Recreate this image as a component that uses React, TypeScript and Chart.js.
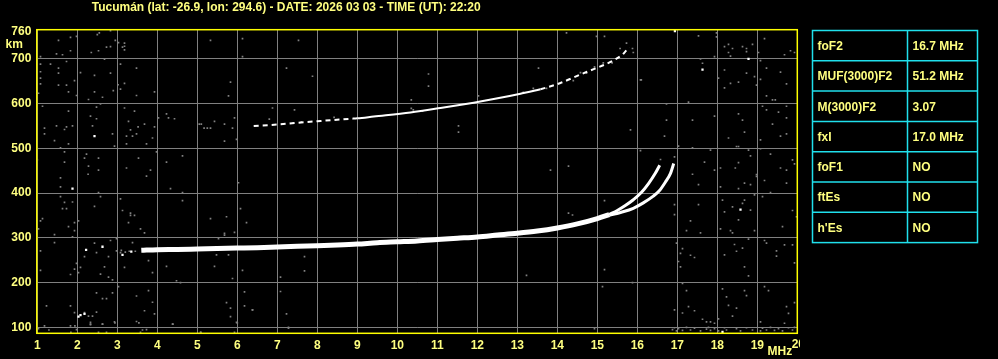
import { useEffect, useRef } from 'react';
import { Chart, registerables } from 'chart.js';
Chart.register(...registerables);

const TITLE = 'Tucumán (lat: -26.9, lon: 294.6) - DATE: 2026 03 03 - TIME (UT): 22:20';
const HEIGHT_TICKS = [100, 200, 300, 400, 500, 600, 700, 760];
const FREQ_MIN = 1;
const FREQ_MAX = 20;
const HEIGHT_MIN = 86.6;
const HEIGHT_MAX = 765;

const PARAM_NAMES = ['foF2', 'MUF(3000)F2', 'M(3000)F2', 'fxI', 'foF1', 'ftEs', "h'Es"];
const PARAM_VALUES = ['16.7 MHz', '51.2 MHz', '3.07', '17.0 MHz', 'NO', 'NO', 'NO'];

// F2 trace (o + x overlapping)
const f2Freq = [3.6, 4, 4.5, 5, 5.5, 6, 6.5, 7, 7.5, 8, 8.5, 9, 9.5, 10, 10.5, 11, 11.5, 12, 12.5, 13, 13.5, 14, 14.5, 15, 15.3];
const f2Height = [272, 273.5, 274, 275, 276, 277, 278, 279.5, 281, 282.5, 284, 286, 289, 291, 293, 296, 299, 302, 306, 310, 315, 322, 331, 343, 352];
// ordinary branch near critical frequency
const oFreq = [15.3, 15.5, 15.7, 15.9, 16.1, 16.28, 16.45, 16.56];
const oHeight = [352, 361, 372, 385, 401, 421, 444, 462];
// extraordinary branch
const xFreq = [15.3, 15.6, 15.9, 16.15, 16.4, 16.55, 16.7, 16.83, 16.91];
const xHeight = [350, 357, 366, 378, 393, 405, 424, 444, 466];
// second hop (2F)
const hop2Freq = [6.41, 6.99, 7.5, 8.08, 8.83, 9.0, 9.41, 10.33, 11.08, 11.91, 12.41, 13.08, 13.58, 14.08, 14.58, 14.91, 15.33, 15.66, 15.79];
const hop2Height = [550, 553, 557, 561, 566, 567, 571, 580, 590, 602, 610, 622, 632, 646, 665, 677, 693, 712, 726];

// isolated white echoes [MHz, km]
const whiteEchoes = [[1.88, 410], [2.43, 527], [2.22, 273], [2.63, 280], [3.13, 262], [3.35, 269], [2.03, 124], [2.08, 127], [2.18, 130], [16.94, 762], [18.78, 700], [17.63, 676], [18.58, 363], [18.13, 90]];

// weak (gray) echoes / noise [MHz, km]
const grayEchoes = [
  [1.53, 741], [1.83, 748], [1.98, 750], [2.5, 754], [2.55, 758], [2.83, 763], [2.95, 741], [3.03, 736], [3.18, 735], [3.18, 728], [3.18, 720], [3.13, 726], [2.73, 726], [2.83, 727], [2.53, 718], [2.35, 714], [1.83, 718], [1.48, 711], [1.63, 709], [1.08, 705], [1.73, 694], [2.68, 699], [1.08, 688], [1.33, 688], [3.08, 688], [1.53, 679], [1.08, 671], [1.53, 668], [2.08, 669], [2.43, 663], [2.83, 668], [3.48, 679], [1.08, 657], [1.93, 651], [1.08, 644], [1.53, 641], [1.73, 641], [3.02, 642], [3.18, 645], [2.9, 629], [3.08, 632], [2.43, 626], [1.78, 626], [3.93, 626], [1.03, 623], [1.98, 618], [2.63, 614], [2.28, 609], [3.48, 618], [2.58, 599], [1.13, 594], [2.48, 592], [3.18, 590], [1.78, 583], [3.43, 583], [2.33, 572], [2.48, 566], [3.28, 560], [3.68, 554], [4.23, 577], [4.03, 568], [4.28, 568], [4.43, 566], [5.33, 741], [6.13, 745], [6.13, 705], [5.83, 648], [5.78, 617], [5.43, 560], [5.68, 554], [5.93, 568], [5.88, 545], [5.98, 520], [5.68, 516], [5.05, 554], [5.1, 554], [5.17, 545], [5.25, 545], [5.33, 545], [1.18, 545], [1.48, 550], [1.73, 548], [1.88, 550], [1.68, 542], [1.18, 532], [1.43, 517], [1.78, 510], [2.38, 550], [2.88, 532], [2.93, 505], [3.23, 527], [3.38, 527], [3.33, 541], [3.48, 532], [3.52, 548], [3.93, 548], [3.88, 523], [3.73, 510], [3.23, 510], [1.58, 501], [1.68, 492], [2.18, 478], [2.23, 487], [2.53, 478], [2.28, 460], [2.53, 451], [1.68, 469], [2.27, 442], [1.58, 434], [3.23, 456], [3.53, 478], [3.83, 451], [3.73, 438], [3.98, 492], [4.63, 483], [4.23, 469], [1.0, 474],
  [1.58, 414], [2.53, 401], [2.58, 392], [1.58, 392], [1.68, 379], [1.88, 380], [1.63, 365], [1.73, 365], [2.43, 370], [3.08, 387], [3.13, 361], [3.33, 355], [3.33, 350], [3.43, 350], [3.28, 334], [1.08, 338], [1.13, 343], [1.78, 325], [1.93, 334], [2.03, 338], [1.93, 316], [1.88, 302], [1.43, 307], [1.03, 320], [3.58, 320], [3.68, 311], [4.33, 410], [4.63, 401], [4.63, 383], [5.68, 310], [5.68, 306], [5.93, 312], [5.73, 347], [5.33, 343], [6.08, 365], [6.23, 334], [6.03, 423], [5.53, 298],
  [2.43, 288], [2.83, 294], [2.98, 298], [3.38, 289], [2.18, 258], [2.48, 267], [2.78, 258], [2.98, 271], [3.08, 267], [2.68, 235], [1.98, 243], [2.08, 234], [1.93, 230], [2.58, 219], [1.83, 218], [2.03, 222], [2.78, 212], [2.88, 206], [3.03, 191], [3.18, 234], [3.78, 249], [3.88, 222], [4.23, 236], [4.48, 204], [4.58, 200], [5.43, 236], [5.88, 209], [6.13, 227], [1.08, 227], [1.08, 271], [1.43, 289], [5.48, 262], [5.78, 262], [3.2, 268], [3.3, 270], [3.45, 270], [3.1, 272],
  [2.48, 177], [2.88, 177], [3.48, 170], [3.78, 182], [3.88, 156], [3.68, 137], [3.93, 130], [1.23, 148], [1.83, 148], [2.63, 164], [2.73, 164], [1.93, 133], [2.18, 133], [2.28, 125], [2.38, 125], [2.48, 134], [2.33, 106], [2.63, 107], [2.93, 112], [1.03, 97], [1.18, 103], [1.83, 103], [1.98, 95], [2.53, 89], [3.48, 113], [3.73, 95], [4.38, 107], [5.08, 89], [5.73, 155], [5.83, 143], [5.83, 124], [6.18, 179], [6.18, 148], [6.38, 139], [6.0, 110], [5.93, 89],
  [1.29, 94], [1.94, 103], [2.33, 107], [2.33, 111], [2.63, 107], [2.94, 110], [3.54, 110], [4.39, 107], [5.09, 89], [5.98, 111], [7.28, 100], [1.84, 89], [2.73, 89], [3.58, 89], [3.63, 94],
  [17.53, 751], [17.98, 758], [17.98, 749], [18.18, 727], [18.28, 732], [18.38, 723], [18.28, 714], [18.33, 706], [18.63, 727], [18.73, 723], [18.73, 716], [18.88, 732], [19.18, 745], [19.03, 714], [19.68, 709], [19.83, 718], [19.93, 714], [19.08, 696], [17.93, 705], [17.58, 700], [17.63, 690], [16.1, 653], [18.18, 675], [18.03, 657], [18.33, 645], [18.53, 648], [18.18, 635], [18.73, 668], [18.93, 660], [18.98, 641], [19.08, 654], [19.23, 679], [19.58, 670], [19.23, 617], [19.38, 608], [19.45, 608], [19.73, 644], [17.28, 603], [16.73, 599], [19.13, 594], [19.23, 586], [19.53, 581], [19.73, 594], [19.73, 568], [17.38, 563], [17.93, 572], [18.53, 577], [18.63, 563], [18.68, 536], [18.28, 523], [19.08, 519], [19.38, 554], [19.58, 527], [19.73, 532], [16.73, 563], [16.68, 527], [17.03, 505], [17.38, 501], [17.83, 496], [18.48, 504], [18.53, 504], [18.78, 496], [19.08, 499], [19.33, 487], [18.83, 483], [18.53, 468], [17.68, 469], [18.08, 456], [18.45, 456], [17.38, 442], [17.53, 419], [16.93, 481], [16.58, 475], [17.93, 451], [18.98, 437], [18.98, 441], [19.18, 428], [19.58, 456], [19.73, 451], [19.73, 422], [19.88, 474], [19.93, 465], [18.08, 414], [18.53, 410], [18.68, 422], [18.83, 419], [19.33, 401], [19.13, 392], [18.93, 396], [18.13, 384], [18.18, 358], [18.38, 369], [18.63, 377], [18.68, 384], [18.83, 362], [18.53, 340], [17.53, 374], [16.93, 374], [16.93, 352], [17.33, 338], [17.23, 316], [17.58, 311], [18.08, 320], [18.33, 316], [18.38, 311], [18.93, 316], [19.63, 325], [19.88, 361], [19.98, 347], [18.78, 297], [16.98, 288], [17.13, 276], [17.08, 265], [17.33, 261], [17.43, 256], [17.03, 247], [17.08, 235], [18.18, 262], [18.43, 285], [18.48, 270], [18.63, 277], [18.68, 235], [18.78, 215], [19.18, 294], [19.23, 288], [19.48, 271], [19.48, 259], [19.68, 284], [19.88, 284], [19.93, 244], [17.13, 198], [17.23, 182], [18.13, 186], [18.23, 168], [18.28, 149], [18.48, 143], [18.68, 182], [18.73, 171], [19.18, 191], [19.28, 182], [19.73, 146], [19.78, 131], [19.93, 155], [16.93, 139], [17.28, 146], [17.43, 137], [17.13, 132], [18.38, 125], [18.03, 119], [17.93, 109], [19.08, 112], [19.68, 109], [17.63, 118], [17.73, 112], [17.83, 112],
  [16.88, 95], [16.93, 99], [16.98, 92], [17.03, 97], [17.13, 93], [17.23, 100], [17.33, 94], [17.43, 98], [17.58, 92], [17.73, 96], [17.78, 100], [17.83, 93], [17.93, 97], [18.03, 92], [18.18, 99], [18.23, 94], [18.48, 97], [18.58, 92], [18.73, 99], [18.88, 94], [19.08, 92], [19.13, 98], [19.23, 94], [19.33, 100], [19.43, 93], [19.53, 97], [19.63, 92], [19.78, 99], [19.88, 94], [19.93, 100],
  [16.08, 495], [14.28, 460], [13.83, 451], [15.18, 383], [14.28, 355], [14.38, 351], [7.68, 258], [7.68, 226], [7.08, 212], [7.08, 180], [13.23, 216], [15.18, 229], [15.13, 191], [15.88, 200], [6.38, 139], [7.23, 130], [7.28, 98], [14.93, 97],
  [7.53, 741], [14.23, 758], [14.98, 750], [15.18, 750], [7.23, 679], [7.88, 661], [10.78, 666], [10.78, 639], [13.53, 679], [16.08, 653], [6.88, 590], [7.43, 586], [10.35, 608], [12.03, 617], [11.53, 550], [11.53, 536], [15.83, 541], [15.57, 723], [15.88, 723], [15.73, 735], [15.9, 714], [15.15, 691], [15.37, 691], [14.93, 682], [14.73, 668], [14.58, 669], [14.4, 651], [13.73, 634], [13.4, 634], [13.15, 625], [8.42, 569], [6.8, 565], [7.4, 557], [7.6, 559], [10.35, 589], [10.4, 586], [10.63, 583],
];

const toPts = (f: number[], h: number[]) => f.map((x, i) => ({ x, y: h[i] }));
const pairPts = (arr: number[][]) => arr.map(([x, y]) => ({ x, y }));

const FONT = 'bold 12px "Liberation Sans", Arial, sans-serif';
const TEXT = '#ffff80';

export default function App() {
  const ref = useRef<HTMLCanvasElement>(null);
  useEffect(() => {
    document.body.style.margin = '0';
    document.body.style.background = '#000';
    const canvas = ref.current!;
    const decor = {
      id: 'decor',
      beforeDraw(chart: any) {
        const c = chart.ctx;
        c.save();
        c.fillStyle = '#000';
        c.fillRect(0, 0, chart.width, chart.height);
        c.restore();
      },
      afterDraw(chart: any) {
        const c = chart.ctx;
        const a = chart.chartArea;
        c.save();
        c.strokeStyle = '#ffff00';
        c.lineWidth = 1.5;
        c.strokeRect(a.left - 0.5, a.top, a.right - a.left + 0.5, a.bottom - a.top);
        c.font = FONT;
        c.fillStyle = TEXT;
        c.textBaseline = 'middle';
        c.textAlign = 'left';
        c.fillText(TITLE, 91.7, 7.5);
        c.fillText('km', 5.5, 45);
        c.fillText('MHz', 767.5, 352);
        // last frequency label, clipped at the image edge
        c.save();
        c.beginPath();
        c.rect(0, 0, 800, chart.height);
        c.clip();
        c.textAlign = 'center';
        c.fillText(String(FREQ_MAX), chart.scales.x.getPixelForValue(FREQ_MAX) + 1, 345);
        c.restore();
        // parameter table
        const x0 = 812.5, x1 = 907.5, x2 = 977.5, y0 = 30.5, rh = 30.3;
        const n = PARAM_NAMES.length;
        c.strokeStyle = '#20e0ec';
        c.lineWidth = 1.5;
        c.strokeRect(x0, y0, x2 - x0, rh * n);
        c.beginPath();
        c.moveTo(x1, y0);
        c.lineTo(x1, y0 + rh * n);
        for (let i = 1; i < n; i++) {
          c.moveTo(x0, y0 + rh * i);
          c.lineTo(x2, y0 + rh * i);
        }
        c.stroke();
        c.fillStyle = TEXT;
        c.textAlign = 'left';
        for (let i = 0; i < n; i++) {
          const yc = y0 + rh * i + rh / 2 + 1;
          c.fillText(PARAM_NAMES[i], x0 + 5, yc);
          c.fillText(PARAM_VALUES[i], x1 + 5, yc);
        }
        c.restore();
      },
    };

    const chart = new Chart(canvas, {
      type: 'scatter',
      data: {
        datasets: [
          {
            data: toPts(f2Freq, f2Height),
            showLine: true,
            borderColor: '#ffffff',
            borderWidth: 5,
            pointRadius: 0,
            cubicInterpolationMode: 'monotone',
            order: 0,
          } as any,
          {
            data: toPts(oFreq, oHeight),
            showLine: true,
            borderColor: '#ffffff',
            borderWidth: 3,
            pointRadius: 0,
            cubicInterpolationMode: 'monotone',
            order: 0,
          },
          {
            data: toPts(xFreq, xHeight),
            showLine: true,
            borderColor: '#ffffff',
            borderWidth: 3,
            pointRadius: 0,
            cubicInterpolationMode: 'monotone',
            order: 0,
          },
          {
            data: toPts(hop2Freq, hop2Height),
            showLine: true,
            borderColor: '#ffffff',
            borderWidth: 2,
            pointRadius: 0,
            cubicInterpolationMode: 'monotone',
            segment: {
              borderDash: (s: any) => (s.p0.parsed.x < 8.9 || s.p0.parsed.x > 13.3 ? [5, 4] : []),
            },
            order: 1,
          },
          {
            data: pairPts(whiteEchoes),
            pointStyle: 'rect',
            pointRadius: 1.6,
            pointBorderWidth: 0,
            pointBackgroundColor: '#ffffff',
            order: 2,
          },
          {
            data: pairPts(grayEchoes),
            pointStyle: 'rect',
            pointRadius: 1.2,
            pointBorderWidth: 0,
            pointBackgroundColor: '#808080',
            order: 5,
          },
        ],
      },
      options: {
        animation: false,
        responsive: false,
        events: [],
        layout: { padding: { top: 29.7, right: 200.7, left: 0, bottom: 0 } },
        plugins: { legend: { display: false }, tooltip: { enabled: false }, title: { display: false } },
        scales: {
          x: {
            type: 'linear',
            min: FREQ_MIN,
            max: FREQ_MAX,
            afterFit: (s: any) => { s.height = 25.7; },
            ticks: {
              stepSize: 1,
              autoSkip: false,
              maxRotation: 0,
              padding: 5,
              color: TEXT,
              font: { family: '"Liberation Sans", Arial, sans-serif', size: 12, weight: 'bold' },
              callback: (v: any) => (v === FREQ_MAX ? '' : String(v)),
            },
            grid: { color: '#808080', lineWidth: 1, drawTicks: false },
            border: { display: false },
          },
          y: {
            type: 'linear',
            min: HEIGHT_MIN,
            max: HEIGHT_MAX,
            afterFit: (s: any) => { s.width = 37.3; },
            afterBuildTicks: (s: any) => { s.ticks = HEIGHT_TICKS.map((v) => ({ value: v })); },
            ticks: {
              autoSkip: false,
              padding: 6,
              color: TEXT,
              font: { family: '"Liberation Sans", Arial, sans-serif', size: 12, weight: 'bold' },
              callback: (v: any) => String(v),
            },
            grid: {
              color: (ctx: any) => (ctx.tick && ctx.tick.value === 760 ? 'rgba(0,0,0,0)' : '#808080'),
              lineWidth: 1,
              drawTicks: false,
            },
            border: { display: false },
          },
        },
      },
      plugins: [decor],
    } as any);
    return () => chart.destroy();
  }, []);
  return (
    <div style={{ width: 998, height: 359, background: '#000' }}>
      <canvas ref={ref} width={998} height={359} style={{ display: 'block' }} />
    </div>
  );
}
